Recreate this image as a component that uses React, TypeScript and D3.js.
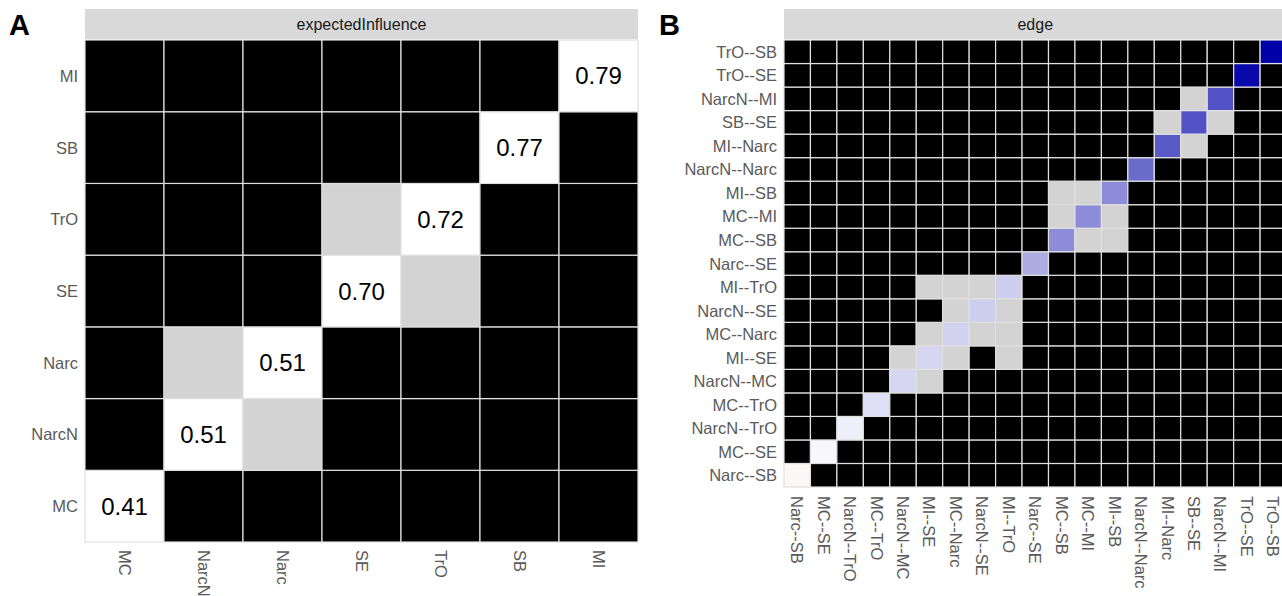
import React, { useEffect, useRef } from 'react'
import * as d3 from 'd3'

// Panel A: expected influence per node (bottom -> top / left -> right)
const nodeOrder = ['MC', 'NarcN', 'Narc', 'SE', 'TrO', 'SB', 'MI']
const expectedInfluence = [0.41, 0.51, 0.51, 0.70, 0.72, 0.77, 0.79]
const nodeNonSig = [['SE', 'TrO'], ['Narc', 'NarcN']]

// Panel B: edge weights (bottom -> top / left -> right)
const edgeOrder = [
  'Narc--SB', 'MC--SE', 'NarcN--TrO', 'MC--TrO', 'NarcN--MC', 'MI--SE', 'MC--Narc',
  'NarcN--SE', 'MI--TrO', 'Narc--SE', 'MC--SB', 'MC--MI', 'MI--SB', 'NarcN--Narc',
  'MI--Narc', 'SB--SE', 'NarcN--MI', 'TrO--SE', 'TrO--SB',
]
const edgeWeights = [
  -0.01, 0.01, 0.02, 0.04, 0.05, 0.05, 0.055,
  0.06, 0.06, 0.10, 0.14, 0.14, 0.14, 0.18,
  0.20, 0.21, 0.21, 0.30, 0.31,
]
const edgeNonSig = [
  ['SB--SE', 'NarcN--MI'], ['MI--Narc', 'SB--SE'],
  ['MC--SB', 'MI--SB'], ['MC--MI', 'MI--SB'], ['MC--SB', 'MC--MI'],
  ['MI--SE', 'MI--TrO'], ['MC--Narc', 'MI--TrO'], ['NarcN--SE', 'MI--TrO'],
  ['MC--Narc', 'NarcN--SE'], ['MI--SE', 'MC--Narc'], ['NarcN--MC', 'MI--SE'],
]

const FONT = 'Liberation Sans, Arial, sans-serif'

const buildCells = (order: string[], nonSig: string[][]) => {
  const cells: { col: string; row: string; kind: string; i: number }[] = []
  const gray = new Set<string>()
  nonSig.forEach(([a, b]) => { gray.add(a + '|' + b); gray.add(b + '|' + a) })
  order.forEach((row, ri) => {
    order.forEach((col) => {
      const kind = row === col ? 'diag' : gray.has(row + '|' + col) ? 'ns' : 'sig'
      cells.push({ col, row, kind, i: ri })
    })
  })
  return cells
}

const App = () => {
  const ref = useRef<SVGSVGElement>(null)

  useEffect(() => {
    const svg = d3.select(ref.current)
    svg.selectAll('*').remove()

    const drawPanel = (opts: any) => {
      const { order, nonSig, left, right, top, bottom, title, letter, letterX, fill, label, labelFont, xLabelGap } = opts
      const g = svg.append('g')

      const x = d3.scaleBand().domain(order).range([left, right])
      const y = d3.scaleBand().domain([...order].reverse()).range([top, bottom])

      // strip
      g.append('rect')
        .attr('x', left).attr('y', 9)
        .attr('width', right - left).attr('height', 30)
        .attr('fill', '#d9d9d9')
      g.append('text')
        .attr('x', (left + right) / 2).attr('y', 24)
        .attr('text-anchor', 'middle').attr('dominant-baseline', 'central')
        .attr('fill', '#1a1a1a').style('font-size', '16px').style('font-family', FONT)
        .text(title)

      g.append('text')
        .attr('x', letterX).attr('y', 35)
        .attr('fill', 'black').style('font-size', '29px').style('font-weight', 'bold')
        .style('font-family', FONT)
        .text(letter)

      const cells = buildCells(order, nonSig)
      g.selectAll('rect.cell')
        .data(cells)
        .join('rect')
        .attr('class', 'cell')
        .attr('x', d => x(d.col)!)
        .attr('y', d => y(d.row)!)
        .attr('width', x.bandwidth())
        .attr('height', y.bandwidth())
        .attr('fill', d => d.kind === 'diag' ? fill(d.i) : d.kind === 'ns' ? '#d3d3d3' : '#000')
        .attr('stroke', '#e0e0e0')
        .attr('stroke-width', 1.2)

      if (label) {
        g.selectAll('text.val')
          .data(cells.filter(d => d.kind === 'diag'))
          .join('text')
          .attr('class', 'val')
          .attr('x', d => x(d.col)! + x.bandwidth() / 2)
          .attr('y', d => y(d.row)! + y.bandwidth() / 2)
          .attr('text-anchor', 'middle').attr('dominant-baseline', 'central')
          .attr('fill', '#000').style('font-size', '24px').style('font-family', FONT)
          .text(d => label(d.i))
      }

      // y axis labels
      g.selectAll('text.ylab')
        .data(order)
        .join('text')
        .attr('class', 'ylab')
        .attr('x', left - 7)
        .attr('y', d => y(d)! + y.bandwidth() / 2)
        .attr('text-anchor', 'end').attr('dominant-baseline', 'central')
        .attr('fill', '#5a5a5a').style('font-size', labelFont).style('font-family', FONT)
        .text(d => d)

      // x axis labels
      g.selectAll('text.xlab')
        .data(order)
        .join('text')
        .attr('class', 'xlab')
        .attr('transform', d => `translate(${x(d)! + x.bandwidth() / 2},${bottom + xLabelGap}) rotate(90)`)
        .attr('text-anchor', 'start').attr('dominant-baseline', 'central')
        .attr('fill', '#5a5a5a').style('font-size', labelFont).style('font-family', FONT)
        .text(d => d)
    }

    drawPanel({
      order: nodeOrder, nonSig: nodeNonSig,
      left: 85, right: 638, top: 40, bottom: 542,
      title: 'expectedInfluence', letter: 'A', letterX: 9,
      fill: () => '#ffffff',
      label: (i: number) => expectedInfluence[i].toFixed(2),
      labelFont: '16.5px', xLabelGap: 8,
    })

    const edgeColor = d3.scaleLinear<string>()
      .domain([-0.3, 0, 0.31])
      .range(['#b00000', '#ffffff', '#0000a8'])

    drawPanel({
      order: edgeOrder, nonSig: edgeNonSig,
      left: 784, right: 784 + 19 * 26.45, top: 40, bottom: 487,
      title: 'edge', letter: 'B', letterX: 659,
      fill: (i: number) => edgeColor(edgeWeights[i]),
      label: null,
      labelFont: '16.5px', xLabelGap: 9,
    })
  }, [])

  return (
    <svg ref={ref} width={1282} height={596}
      style={{ position: 'absolute', left: 0, top: 0, background: 'white' }} />
  )
}

export default App
